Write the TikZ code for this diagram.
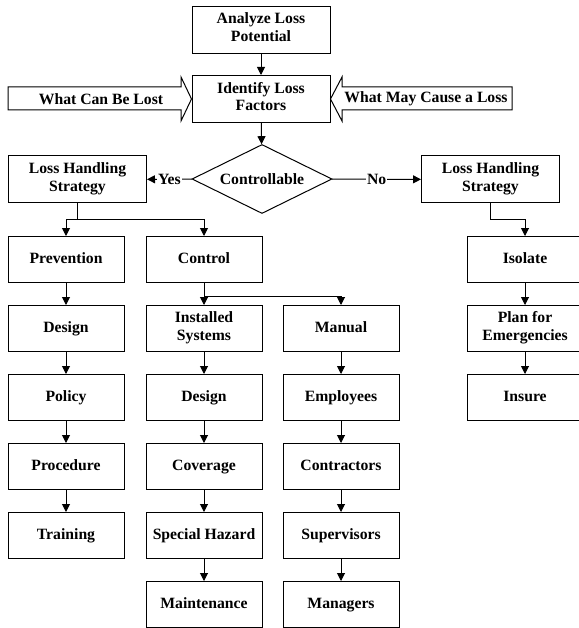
\documentclass[tikz,border=0pt]{standalone}
\usepackage{fontspec}
\setmainfont{Liberation Serif}
\usepackage{tikz}
\usetikzlibrary{arrows.meta,positioning,shapes.geometric}

\begin{document}
\begin{tikzpicture}[x=1pt,y=-1pt,line width=1pt,
    >={Triangle[length=8pt,width=8pt]},
    every node/.style={font=\fontsize{15.7}{17.7}\selectfont\bfseries},
    box/.style={draw,align=center,minimum width=116pt,minimum height=46pt,inner sep=1pt,
        execute at begin node=\strut,execute at end node=\strut},
    bigbox/.style={box,minimum width=138pt,minimum height=47pt},
    decision/.style={draw,diamond,aspect=2,minimum width=140pt,minimum height=69pt,inner sep=0pt}]
\useasboundingbox (0,0) rectangle (578,628);

% Top of the chart
\node[bigbox] (analyze) at (261,30) {Analyze Loss\\Potential};
\node[bigbox] (identify) at (261,99) {Identify Loss\\Factors};
\node[decision] (ctrl) at (262,179) {Controllable};
\draw[->] (analyze) -- (identify);
\draw[->] (identify) -- (ctrl);

% Inputs to the loss factors
\draw (8,87) -- (181,87) -- (181,77) -- (identify.west) -- (181,121) -- (181,110) -- (8,110) -- cycle;
\node (canlose) at (101,99) {What Can Be Lost};
\draw (512,87) -- (342,87) -- (342,77) -- (identify.east) -- (342,121) -- (342,110) -- (512,110) -- cycle;
\node (maycause) at (426,99) {What May Cause a Loss};

% Strategies
\node[bigbox] (lhsL) at (77.5,179.5) {Loss Handling\\Strategy};
\node[bigbox] (lhsR) at (490.5,179.5) {Loss Handling\\Strategy};
\draw[->] (ctrl) -- node[fill=white,inner sep=1pt] {Yes} (lhsL);
\draw[->] (ctrl) -- node[fill=white,inner sep=1pt] {No} (lhsR);

% Columns
\node[box] (prevention) at (66,259.5) {Prevention};
\node[box] (design1) at (66,328.5) {Design};
\node[box] (policy) at (66,397.5) {Policy};
\node[box] (procedure) at (66,466.5) {Procedure};
\node[box] (training) at (66,535.5) {Training};

\node[box] (control) at (204,259.5) {Control};
\node[box] (installed) at (204,328.5) {Installed\\Systems};
\node[box] (design2) at (204,397.5) {Design};
\node[box] (coverage) at (204,466.5) {Coverage};
\node[box] (special) at (204,535.5) {Special Hazard};
\node[box] (maintenance) at (204,604.5) {Maintenance};

\node[box] (manual) at (341,328.5) {Manual};
\node[box] (employees) at (341,397.5) {Employees};
\node[box] (contractors) at (341,466.5) {Contractors};
\node[box] (supervisors) at (341,535.5) {Supervisors};
\node[box] (managers) at (341,604.5) {Managers};

\node[box] (isolate) at (525,259.5) {Isolate};
\node[box] (plan) at (525,328.5) {Plan for\\Emergencies};
\node[box] (insure) at (525,397.5) {Insure};

% Branches
\draw[->] (lhsL.south) -- ++(0,16) coordinate (splitL) -| (prevention.north);
\draw[->] (splitL) -| (control.north);
\draw[->] (control) -- (installed);
\draw[->] ([yshift=-13pt]control.south) -| (manual.north);
\draw[->] (lhsR.south) -- ++(0,16) -| (isolate.north);

\foreach \a/\b in {prevention/design1, design1/policy, policy/procedure, procedure/training,
    installed/design2, design2/coverage, coverage/special, special/maintenance,
    manual/employees, employees/contractors, contractors/supervisors, supervisors/managers,
    isolate/plan, plan/insure}
    \draw[->] (\a) -- (\b);
\end{tikzpicture}
\end{document}
